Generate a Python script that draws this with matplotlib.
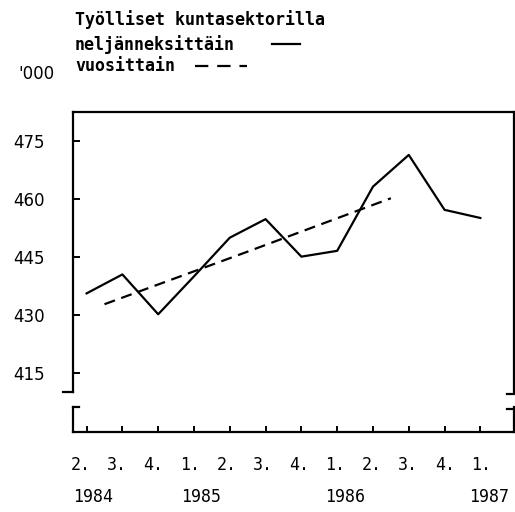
import matplotlib.pyplot as plt

# Työlliset kuntasektorilla, tuhatta henkeä
quarters = ["2.", "3.", "4.", "1.", "2.", "3.", "4.", "1.", "2.", "3.", "4.", "1."]
years = ["1984", "1985", "1986", "1987"]
year_start = [0, 3, 7, 11]
quarterly = [435.6, 440.5, 430.2, 440.0, 450.0, 454.8, 445.1, 446.6, 463.2, 471.4, 457.2, 455.1]
annual_x = [0.5, 4.5, 8.5]
annual = [432.8, 446.4, 460.2]
yticks = [415, 430, 445, 460, 475]

mono = "DejaVu Sans Mono"
W, H = 515, 512
fig = plt.figure(figsize=(5.15, 5.12), dpi=100)

def fx(px):
    return px / W

def fy(py):
    return 1 - py / H

xlim = (-0.38, 11.94)
ax = fig.add_axes([fx(73), fy(392), fx(514) - fx(73), fy(112) - fy(392)])
ax.plot(range(len(quarterly)), quarterly, color="black", lw=1.6)
ax.plot(annual_x, annual, color="black", lw=1.6, ls=(0, (5, 3)))
ax.set_xlim(*xlim)
ax.set_ylim(410.1, 482.5)
ax.set_yticks(yticks)
ax.tick_params(axis="y", direction="in", length=5, width=1.4, pad=20, labelsize=12)
ax.set_xticks([])
ax.spines["bottom"].set_visible(False)
for s in ["left", "top", "right"]:
    ax.spines[s].set_linewidth(1.6)

ax2 = fig.add_axes([fx(73), fy(432), fx(514) - fx(73), fy(407) - fy(432)])
ax2.set_xlim(*xlim)
ax2.set_ylim(0, 1)
ax2.set_yticks([])
ax2.set_xticks(range(len(quarters)))
ax2.set_xticklabels([])
ax2.tick_params(axis="x", direction="in", length=4, width=1.4)
ax2.spines["top"].set_visible(False)
for s in ["left", "bottom", "right"]:
    ax2.spines[s].set_linewidth(1.6)

# katkomerkit
brk = dict(color="black", lw=1.6, transform=fig.transFigure)
fig.add_artist(plt.Line2D([fx(63), fx(73)], [fy(392), fy(392)], **brk))
fig.add_artist(plt.Line2D([fx(73), fx(79)], [fy(407), fy(407)], **brk))
fig.add_artist(plt.Line2D([fx(507), fx(514)], [fy(394), fy(394)], **brk))
fig.add_artist(plt.Line2D([fx(507), fx(514)], [fy(409), fy(409)], **brk))

# x-akselin nimet
for i, q in enumerate(quarters):
    xp = 86.7 + 36.4 * i
    fig.text(fx(xp - 6), fy(465), q, ha="center", va="center", fontsize=12, family=mono)
for y, i in zip(years, year_start):
    xp = 86.7 + 36.0 * i
    fig.text(fx(xp - 14), fy(497), y, ha="left", va="center", fontsize=12, family=mono)

fig.text(fx(75), fy(20), "Työlliset kuntasektorilla", ha="left", va="center",
         fontsize=12, family=mono, weight="bold")
fig.text(fx(75), fy(45), "neljänneksittäin", ha="left", va="center",
         fontsize=12, family=mono, weight="bold")
fig.text(fx(75), fy(66), "vuosittain", ha="left", va="center",
         fontsize=12, family=mono, weight="bold")
fig.text(fx(18), fy(74), "'000", ha="left", va="center", fontsize=12)

# selitteen viivat
fig.add_artist(plt.Line2D([fx(272), fx(300)], [fy(44), fy(44)], color="black", lw=1.6,
                          transform=fig.transFigure))
fig.add_artist(plt.Line2D([fx(195), fx(247)], [fy(66), fy(66)], color="black", lw=1.6,
                          ls=(0, (6, 4)), transform=fig.transFigure))

fig.savefig("out.png", dpi=100)
